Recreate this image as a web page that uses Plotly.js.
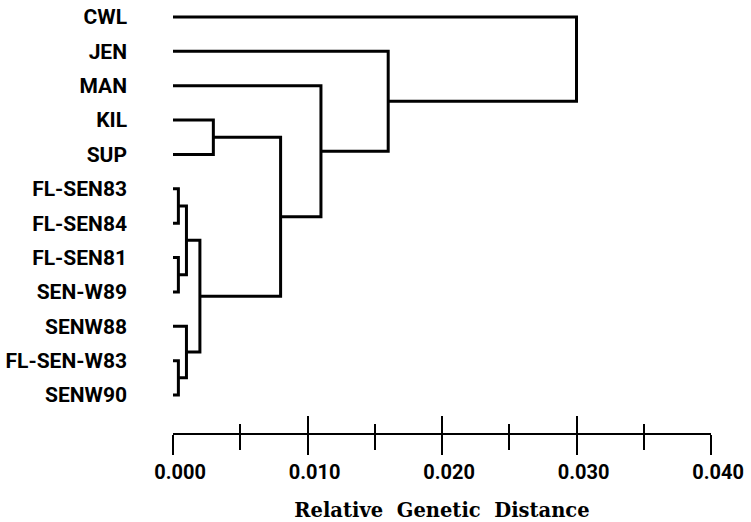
<!DOCTYPE html>
<html>
<head>
<meta charset="utf-8">
<script src="https://cdn.plot.ly/plotly-3.0.1.min.js"></script>
<style>html,body{margin:0;padding:0;background:#fff;}#chart{width:751px;height:522px;}</style>
</head>
<body>
<div id="chart"></div>
<script>
// Leaf labels, top to bottom
const leaves = ["CWL","JEN","MAN","KIL","SUP","FL-SEN83","FL-SEN84","FL-SEN81","SEN-W89","SENW88","FL-SEN-W83","SENW90"];
// Merges: children indices (leaves 0..11, merged nodes 12..) and join distance
const mergeLeft   = [5, 7, 10, 12, 9, 15, 3, 18, 2, 1, 0];
const mergeRight  = [6, 8, 11, 13, 14, 16, 4, 17, 19, 20, 21];
const mergeHeight = [0.0004, 0.0004, 0.0004, 0.001, 0.001, 0.002, 0.003, 0.008, 0.011, 0.016, 0.030];
// Axis ticks
const tickValues = [0, 0.01, 0.02, 0.03, 0.04];
const tickLabels = ["0.000", "0.010", "0.020", "0.030", "0.040"];

const nodeY = leaves.map((_, i) => i);
const nodeH = leaves.map(() => 0);
const xs = [], ys = [];
for (let k = 0; k < mergeHeight.length; k++) {
  const a = mergeLeft[k], b = mergeRight[k], h = mergeHeight[k];
  const ya = nodeY[a], yb = nodeY[b];
  xs.push(nodeH[a], h, h, nodeH[b], null);
  ys.push(ya, ya, yb, yb, null);
  nodeY.push((ya + yb) / 2);
  nodeH.push(h);
}

const traces = [
  {x: xs, y: ys, type: 'scatter', mode: 'lines', line: {color: '#000', width: 3}, hoverinfo: 'skip', showlegend: false},
  {x: [0], y: [0], xaxis: 'x2', type: 'scatter', mode: 'markers', marker: {opacity: 0}, hoverinfo: 'skip', showlegend: false}
];

const sans = 'Roboto, DejaVu Sans, sans-serif';
const layout = {
  width: 751, height: 522,
  margin: {l: 173, r: 40, t: 0, b: 89},
  paper_bgcolor: '#fff', plot_bgcolor: '#fff',
  showlegend: false,
  xaxis: {
    range: [0, 0.04], tickmode: 'array', tickvals: tickValues, ticktext: tickLabels,
    ticks: 'outside', ticklen: 20, tickwidth: 2, tickcolor: '#000',
    minor: {dtick: 0.005, tick0: 0, ticks: 'outside', ticklen: 15, tickwidth: 1.6, tickcolor: '#000', showgrid: false},
    showline: true, linewidth: 2, linecolor: '#000',
    showgrid: false, zeroline: false, ticklabelshift: 7,
    tickfont: {family: sans, size: 20, color: '#000', weight: 'bold'},
    title: {text: 'Relative\u00a0\u00a0Genetic\u00a0\u00a0Distance', standoff: 22,
            font: {family: 'DejaVu Serif, serif', size: 19.5, color: '#000', weight: 'bold'}}
  },
  xaxis2: {
    overlaying: 'x', anchor: 'y', side: 'bottom', range: [0, 0.04],
    tickmode: 'array', tickvals: tickValues,
    ticks: 'inside', ticklen: 17, tickwidth: 2, tickcolor: '#000',
    minor: {dtick: 0.005, tick0: 0, ticks: 'inside', ticklen: 9, tickwidth: 1.6, tickcolor: '#000', showgrid: false},
    showticklabels: false, showline: false, showgrid: false, zeroline: false
  },
  yaxis: {
    range: [12.106, -0.495], tickmode: 'array',
    tickvals: leaves.map((_, i) => i), ticktext: leaves,
    ticks: '', ticklabelstandoff: 45,
    showline: false, showgrid: false, zeroline: false,
    tickfont: {family: sans, size: 21, color: '#000', weight: 'bold'}
  }
};

Plotly.newPlot('chart', traces, layout, {displayModeBar: false, staticPlot: true});
</script>
</body>
</html>
